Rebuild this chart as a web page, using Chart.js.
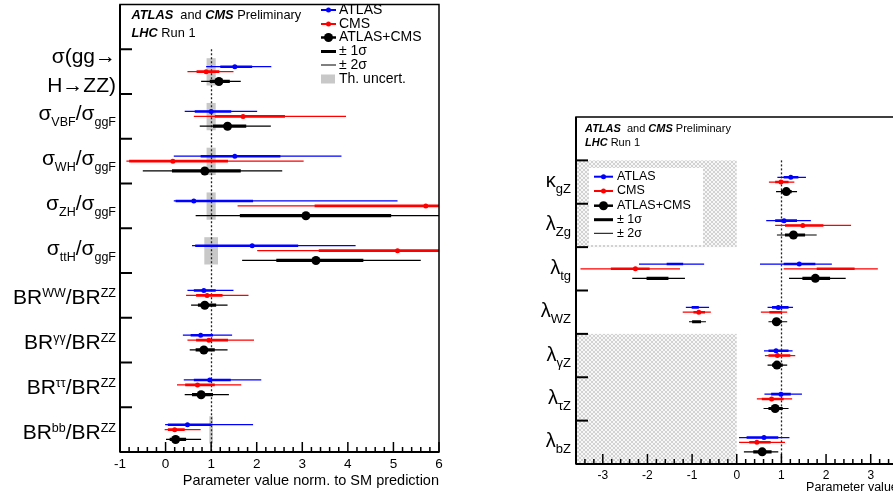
<!DOCTYPE html>
<html>
<head>
<meta charset="utf-8">
<script src="https://cdn.jsdelivr.net/npm/chart.js@4.4.1/dist/chart.umd.min.js"></script>
<style>
  html, body { margin: 0; padding: 0; width: 893px; height: 500px; overflow: hidden; background: #fff; }
  canvas { position: absolute; top: 0; }
  #left { left: 0; }
  #right { left: 450px; }
</style>
</head>
<body>
<canvas id="left" width="450" height="500"></canvas>
<canvas id="right" width="620" height="500"></canvas>
<script>
const FONT = '"Liberation Sans", Arial, Helvetica, sans-serif';

// ---- production cross sections / branching ratios, normalised to SM ----
const xsLabels = ['σ(gg→\nH→ZZ)', 'σ_{VBF}/σ_{ggF}', 'σ_{WH}/σ_{ggF}', 'σ_{ZH}/σ_{ggF}', 'σ_{ttH}/σ_{ggF}',
  'BR^{WW}/BR^{ZZ}', 'BR^{γγ}/BR^{ZZ}', 'BR^{ττ}/BR^{ZZ}', 'BR^{bb}/BR^{ZZ}'];
const xsTicks = [-1, 0, 1, 2, 3, 4, 5, 6];
const xsAtlasBest = [1.52, 1.00, 1.52, 0.62, 1.90, 0.84, 0.77, 0.97, 0.48];
const xsAtlas1s = [[1.20, 1.90], [0.64, 1.44], [0.77, 2.52], [0.22, 1.92], [0.65, 2.91], [0.62, 1.10], [0.55, 1.04], [0.62, 1.43], [0.05, 1.00]];
const xsAtlas2s = [[0.89, 2.32], [0.42, 2.01], [0.18, 3.86], [0.18, 5.09], [0.58, 4.17], [0.48, 1.49], [0.38, 1.46], [0.40, 2.10], [-0.01, 1.92]];
const xsCmsBest = [0.89, 1.70, 0.16, 5.71, 5.09, 0.91, 0.95, 0.70, 0.20];
const xsCms1s = [[0.68, 1.18], [1.08, 2.62], [-0.80, 1.37], [3.27, 7.5], [3.36, 7.5], [0.67, 1.25], [0.67, 1.37], [0.43, 1.08], [0.05, 0.42]];
const xsCms2s = [[0.48, 1.49], [0.62, 3.96], [-0.86, 3.03], [1.58, 8.5], [2.01, 8.5], [0.45, 1.82], [0.48, 1.94], [0.25, 1.66], [-0.02, 0.77]];
const xsCombBest = [1.17, 1.36, 0.86, 3.08, 3.30, 0.86, 0.84, 0.78, 0.22];
const xsComb1s = [[0.97, 1.41], [1.04, 1.77], [0.14, 1.65], [1.63, 4.95], [2.43, 4.34], [0.71, 1.11], [0.66, 1.08], [0.58, 1.04], [0.09, 0.45]];
const xsComb2s = [[0.78, 1.65], [0.75, 2.31], [-0.50, 2.56], [0.66, 6.6], [1.68, 5.60], [0.56, 1.36], [0.53, 1.36], [0.42, 1.39], [0.01, 0.78]];
const xsTheory = [0.10, 0.10, 0.10, 0.10, 0.15, 0, 0, 0, 0.04];   // half widths of SM uncertainty band

// ---- ratios of coupling modifiers ----
const cpLabels = ['κ_{gZ}', 'λ_{Zg}', 'λ_{tg}', 'λ_{WZ}', 'λ_{γZ}', 'λ_{τZ}', 'λ_{bZ}'];
const cpTicks = [-3, -2, -1, 0, 1, 2, 3, 4, 5, 6];
const cpAtlasBest = [1.21, 1.06, 1.40, 0.93, 0.88, 0.99, 0.61];
const cpAtlas1s = [[1.05, 1.38], [0.86, 1.35], [[-1.57, -1.20], [1.05, 1.76]], [[-1.01, -0.85], [0.79, 1.16]], [0.71, 1.16], [0.77, 1.21], [0.22, 0.93]];
const cpAtlas2s = [[0.91, 1.55], [0.66, 1.66], [[-2.19, -0.73], [0.52, 2.13]], [[-1.14, -0.62], [0.69, 1.26]], [0.61, 1.25], [0.62, 1.46], [0.05, 1.18]];
const cpCmsBest = [0.99, 1.48, -2.27, -0.85, 0.91, 0.78, 0.45];
const cpCms1s = [[0.86, 1.16], [1.08, 1.94], [[-2.82, -1.95], [1.79, 2.64]], [[-0.97, -0.71], [0.73, 1.01]], [0.71, 1.20], [0.56, 1.05], [0.28, 0.76]];
const cpCms2s = [[0.72, 1.29], [0.86, 2.56], [[-3.50, -1.27], [1.05, 3.16]], [[-1.21, -0.58], [0.54, 1.13]], [0.63, 1.31], [0.45, 1.24], [0.05, 1.08]];
const cpCombBest = [1.11, 1.27, 1.76, 0.89, 0.90, 0.86, 0.57];
const cpComb1s = [[0.99, 1.23], [1.08, 1.53], [[-2.02, -1.53], [1.47, 2.09]], [[-1.00, -0.80], [0.79, 1.01]], [0.79, 1.03], [0.71, 1.03], [0.37, 0.78]];
const cpComb2s = [[0.88, 1.35], [0.90, 1.79], [[-2.34, -1.16], [1.17, 2.44]], [[-1.07, -0.69], [0.71, 1.13]], [0.69, 1.13], [0.60, 1.16], [0.16, 0.93]];
const cpHatchRows = [[1, 3], [5, 8]];   // rows with the excluded (negative) region shaded

const seriesNames = ['ATLAS', 'CMS', 'ATLAS+CMS'];
const legendLabels = ['ATLAS', 'CMS', 'ATLAS+CMS', '± 1σ', '± 2σ', 'Th. uncert.'];
const axisTitle = 'Parameter value norm. to SM prediction';

const COLORS = ['#0000ff', '#ff0000', '#000000'];
const ROW_DY = [0.39, 0.5, 0.72];
const THEORY_GREY = '#c8c8c8';

function intervalPoints(list, dy) {
  const pts = [];
  list.forEach((iv, i) => {
    const segs = Array.isArray(iv[0]) ? iv : [iv];
    segs.forEach(([lo, hi]) => {
      pts.push({x: lo, y: i + 1 + dy}, {x: hi, y: i + 1 + dy}, {x: null, y: null});
    });
  });
  return pts;
}

function richParts(str) {
  const out = [], re = /([_^])\{([^}]*)\}|([^_^]+)/g;
  let m;
  while ((m = re.exec(str))) {
    if (m[3]) out.push({t: m[3], k: ''});
    else out.push({t: m[2], k: m[1] === '_' ? 'sub' : 'sup'});
  }
  return out;
}

function drawRich(ctx, str, xr, yb, f) {
  const parts = richParts(str);
  const fontOf = k => (k ? f.small : f.main) + 'px ' + FONT;
  let w = 0;
  parts.forEach(p => { ctx.font = fontOf(p.k); p.w = ctx.measureText(p.t).width; w += p.w; });
  let x = xr - w;
  parts.forEach(p => {
    ctx.font = fontOf(p.k);
    const dy = p.k === 'sub' ? f.subDy : p.k === 'sup' ? -f.supDy : 0;
    ctx.fillText(p.t, x, yb + dy);
    x += p.w;
  });
}

let hatchTile = null;
function hatchPattern(ctx) {
  if (!hatchTile) {
    hatchTile = document.createElement('canvas');
    hatchTile.width = 4; hatchTile.height = 4;
    const g = hatchTile.getContext('2d');
    g.fillStyle = '#f7f7f7'; g.fillRect(0, 0, 4, 4);
    g.strokeStyle = '#d2d2d2'; g.lineWidth = 1;
    g.beginPath(); g.moveTo(0, 0); g.lineTo(4, 4); g.moveTo(4, 0); g.lineTo(0, 4); g.stroke();
  }
  return ctx.createPattern(hatchTile, 'repeat');
}

function line(ctx, x0, y0, x1, y1) { ctx.beginPath(); ctx.moveTo(x0, y0); ctx.lineTo(x1, y1); ctx.stroke(); }

function drawHeader(ctx, h) {
  ctx.textBaseline = 'middle';
  ctx.fillStyle = '#000';
  const bi = 'italic bold ' + h.size + 'px ' + FONT, rg = h.size + 'px ' + FONT;
  [[['ATLAS', bi], ['  and ', rg], ['CMS', bi], [' Preliminary', rg]], [['LHC', bi], [' Run 1', rg]]]
    .forEach((row, r) => {
      let x = h.x;
      row.forEach(([t, f]) => { ctx.font = f; ctx.fillText(t, x, h.ys[r]); x += ctx.measureText(t).width; });
    });
}

function drawLegend(ctx, L) {
  if (L.bg) { ctx.fillStyle = '#fff'; ctx.fillRect(L.bg[0], L.bg[1], L.bg[2], L.bg[3]); }
  ctx.font = L.size + 'px ' + FONT;
  ctx.textBaseline = 'middle';
  ctx.textAlign = 'left';
  L.ys.forEach((y, i) => {
    const mid = (L.x0 + L.x1) / 2;
    ctx.strokeStyle = ctx.fillStyle = i < 3 ? COLORS[i] : '#000';
    if (i < 3) {
      ctx.lineWidth = i === 2 ? 2.5 : 2;
      line(ctx, L.x0, y, L.x1, y);
      ctx.beginPath(); ctx.arc(mid, y, i === 2 ? 4.5 : 2.5, 0, Math.PI * 2); ctx.fill();
    } else if (i < 5) {
      ctx.lineWidth = i === 3 ? 3 : 1;
      line(ctx, L.x0, y, L.x1, y);
    } else {
      ctx.fillStyle = THEORY_GREY;
      ctx.fillRect(L.x0, y - 4.5, L.x1 - L.x0 - 1, 9);
    }
    ctx.fillStyle = '#000';
    ctx.fillText(legendLabels[i], L.tx, y);
  });
}

function decorPlugin(p) {
  return {
    id: 'decor',
    beforeDatasetsDraw(chart) {
      const {ctx, chartArea: a, scales: {x, y}} = chart;
      ctx.save();
      (p.hatch || []).forEach(([r0, r1]) => {
        ctx.fillStyle = hatchPattern(ctx);
        const x1 = x.getPixelForValue(0), y0 = y.getPixelForValue(r0), y1 = y.getPixelForValue(r1);
        ctx.fillRect(a.left, y0, x1 - a.left, y1 - y0);
      });
      ctx.fillStyle = THEORY_GREY;
      (p.theory || []).forEach((w, i) => {
        if (!w) return;
        const x0 = x.getPixelForValue(1 - w), x1 = x.getPixelForValue(1 + w);
        const y0 = y.getPixelForValue(i + 1.2), y1 = y.getPixelForValue(i + 1.81);
        ctx.fillRect(x0, y0, x1 - x0, y1 - y0);
      });
      // SM expectation
      ctx.setLineDash([2, 2]);
      ctx.lineWidth = 1.3;
      ctx.strokeStyle = '#222';
      const sm = Math.round(x.getPixelForValue(1)) + 0.5;
      line(ctx, sm, y.getPixelForValue(1), sm, a.bottom);
      ctx.restore();
    },
    afterDatasetsDraw(chart) {
      const {ctx, chartArea: a, scales: {x, y}} = chart;
      ctx.save();
      ctx.strokeStyle = '#000';
      ctx.lineWidth = 1.5;
      ctx.strokeRect(a.left, a.top, a.right - a.left, a.bottom - a.top);
      ctx.lineWidth = 2;
      line(ctx, a.left, a.top, a.left, a.bottom);
      line(ctx, a.left, a.bottom, a.right, a.bottom);
      // row separators on the left axis
      for (let r = 1; r <= p.labels.length; r++) {
        const py = y.getPixelForValue(r);
        line(ctx, a.left, py, a.left + 12, py);
      }
      // x ticks, minor every 0.2
      ctx.lineWidth = 1.5;
      for (let k = Math.ceil(x.min / 0.2 - 1e-6); k * 0.2 <= x.max + 1e-6; k++) {
        const v = k * 0.2, px = x.getPixelForValue(v);
        const major = Math.abs(v - Math.round(v)) < 1e-6;
        line(ctx, px, a.bottom, px, a.bottom - (major ? 10 : 5));
      }
      ctx.restore();
    },
    afterDraw(chart) {
      const {ctx, scales: {y}} = chart;
      ctx.save();
      ctx.fillStyle = '#000';
      ctx.textAlign = 'left';
      ctx.textBaseline = 'alphabetic';
      p.labels.forEach((lab, i) => {
        const cy = y.getPixelForValue(i + 1.5);
        const lines = lab.split('\n');
        if (lines.length > 1) {
          lines.forEach((t, j) => drawRich(ctx, t, p.labelRight, cy - 9 + 29 * j, p.lf));
        } else {
          const off = lab.includes('^') ? 9 : p.subBase;
          drawRich(ctx, lab, p.labelRight, cy + off, p.lf);
        }
      });
      drawHeader(ctx, p.header);
      drawLegend(ctx, p.legend);
      ctx.restore();
    }
  };
}

function buildPanel(p) {
  let datasets = [];
  p.series.forEach((s, k) => {
    const dy = ROW_DY[k];
    datasets.push({label: seriesNames[k] + ' 2σ', data: intervalPoints(s.outer, dy), borderColor: COLORS[k],
      borderWidth: k === 2 ? 1.2 : 1.3, pointRadius: 0, borderCapStyle: 'butt'});
    datasets.push({label: seriesNames[k] + ' 1σ', data: intervalPoints(s.inner, dy), borderColor: COLORS[k],
      borderWidth: k === 2 ? 3.2 : 2.6, pointRadius: 0, borderCapStyle: 'butt'});
    datasets.push({label: seriesNames[k], data: s.best.map((v, i) => ({x: v, y: i + 1 + dy})), showLine: false,
      pointRadius: k === 2 ? 4.5 : 2.5, pointBackgroundColor: COLORS[k], pointBorderWidth: 0});
  });
  datasets = datasets.reverse();   // first dataset is painted last
  return new Chart(document.getElementById(p.canvas), {
    type: 'line',
    data: {datasets},
    options: {
      responsive: false,
      animation: false,
      devicePixelRatio: 1,
      events: [],
      layout: {padding: {left: p.padLeft, right: p.padRight, top: p.padTop, bottom: 0}},
      plugins: {legend: {display: false}, tooltip: {enabled: false}},
      scales: {
        x: {
          type: 'linear', min: p.min, max: p.max,
          afterFit: s => { s.height = p.axisH; },
          afterBuildTicks: s => { s.ticks = p.ticks.map(v => ({value: v})); },
          grid: {display: false, drawTicks: false},
          border: {display: false},
          ticks: {autoSkip: false, maxRotation: 0, color: '#000', padding: p.tickPad,
            font: {family: FONT, size: p.tickFont}, callback: v => String(v)},
          title: {display: true, text: axisTitle, align: 'end', color: '#000',
            font: {family: FONT, size: p.titleFont}, padding: {top: 0, bottom: p.titlePad}}
        },
        y: {type: 'linear', min: 0, max: p.labels.length + 1, reverse: true, display: false}
      }
    },
    plugins: [decorPlugin(p)]
  });
}

buildPanel({
  canvas: 'left', min: -1, max: 6, ticks: xsTicks, padLeft: 120, padRight: 11, padTop: 1, axisH: 48,
  tickFont: 13.5, tickPad: 4, titleFont: 14.5, titlePad: 10.3,
  labels: xsLabels, labelRight: 116, subBase: 4,
  lf: {main: 21, small: 12.5, subDy: 6, supDy: 7},
  theory: xsTheory,
  series: [
    {best: xsAtlasBest, inner: xsAtlas1s, outer: xsAtlas2s},
    {best: xsCmsBest, inner: xsCms1s, outer: xsCms2s},
    {best: xsCombBest, inner: xsComb1s, outer: xsComb2s}
  ],
  header: {x: 131.5, ys: [15.7, 33.3], size: 12.8},
  legend: {x0: 321, x1: 336, tx: 339, ys: [10, 24, 37.5, 51.5, 65, 79], size: 14}
});

buildPanel({
  canvas: 'right', min: -3.6, max: 6.5, ticks: cpTicks, padLeft: 126, padRight: 43, padTop: 117, axisH: 36,
  tickFont: 12, tickPad: 4, titleFont: 12.5, titlePad: 4.5,
  labels: cpLabels, labelRight: 121, subBase: 5,
  lf: {main: 20, small: 13, subDy: 6, supDy: 7},
  hatch: cpHatchRows,
  series: [
    {best: cpAtlasBest, inner: cpAtlas1s, outer: cpAtlas2s},
    {best: cpCmsBest, inner: cpCms1s, outer: cpCms2s},
    {best: cpCombBest, inner: cpComb1s, outer: cpComb2s}
  ],
  header: {x: 135, ys: [129.3, 143.3], size: 11},
  legend: {bg: [139, 168, 114, 77], x0: 144, x1: 163, tx: 167, ys: [176.7, 191, 205.7, 219.7, 233.3], size: 12.5}
});
</script>
</body>
</html>
